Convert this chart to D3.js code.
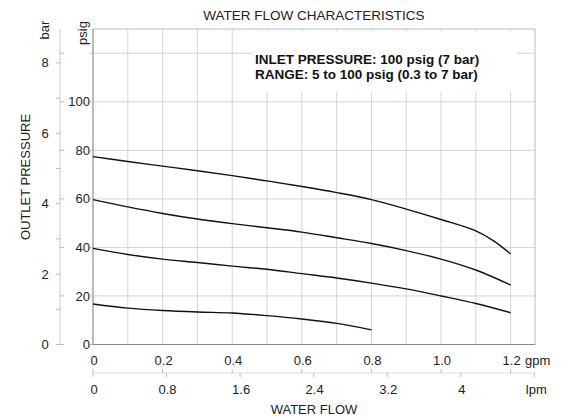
<!DOCTYPE html>
<html>
<head>
<meta charset="utf-8">
<script src="https://cdn.jsdelivr.net/npm/d3@7"></script>
<style>
  body { margin: 0; background: #fff; }
  text { font-family: "Liberation Sans", Arial, sans-serif; fill: #222; }
</style>
</head>
<body>
<svg id="chart" width="565" height="418"></svg>
<script>
// Water flow characteristics: outlet pressure vs water flow

// flow points (gpm) for each curve
const flowTop = [0, 0.1, 0.2, 0.3, 0.4, 0.5, 0.6, 0.7, 0.8, 0.9, 1.0, 1.1, 1.15, 1.2];
const flowMid = [0, 0.1, 0.2, 0.3, 0.4, 0.5, 0.6, 0.7, 0.8, 0.9, 1.0, 1.1, 1.2];
const flowLow = [0, 0.1, 0.2, 0.3, 0.4, 0.5, 0.6, 0.7, 0.8];

// outlet pressure (psig)
const outlet80 = [77.4, 75.4, 73.5, 71.6, 69.6, 67.4, 65.1, 62.6, 59.7, 55.8, 51.5, 46.8, 42.8, 37.3];
const outlet60 = [59.7, 56.7, 54.0, 51.7, 49.8, 48.1, 46.3, 44.0, 41.6, 38.7, 35.2, 30.7, 24.5];
const outlet40 = [39.6, 37.1, 35.2, 33.8, 32.3, 31.0, 29.2, 27.4, 25.3, 22.9, 20.0, 16.9, 13.1];
const outlet20 = [16.7, 15.0, 14.0, 13.4, 13.0, 11.9, 10.5, 8.7, 6.0];

// tick labels
const psiTicks = [0, 20, 40, 60, 80, 100];
const barTicks = [0, 2, 4, 6, 8];
const gpmTicks = [0, 0.2, 0.4, 0.6, 0.8, 1.0, 1.2];
const lpmTicks = [0, 0.8, 1.6, 2.4, 3.2, 4];
const noteLines = ["INLET PRESSURE: 100 psig (7 bar)", "RANGE: 5 to 100 psig (0.3 to 7 bar)"];

const PSI_PER_BAR = 14.5038;
const LPM_PER_GPM = 3.7854;

const svg = d3.select("#chart");
const plotLeft = 93, plotRight = 535, plotTop = 29, plotBottom = 344.5;

const x = d3.scaleLinear().domain([0, 1.27]).range([plotLeft, plotRight]);
const y = d3.scaleLinear().domain([0, 130]).range([plotBottom, plotTop]);
const yBar = d3.scaleLinear().domain([0, 130 / PSI_PER_BAR]).range([plotBottom, plotTop]);
const xLpm = d3.scaleLinear().domain([0, 1.27 * LPM_PER_GPM]).range([plotLeft, plotRight]);

// gridlines
svg.append("g")
  .selectAll("line")
  .data(d3.range(1, 13).map(i => i / 10))
  .join("line")
    .attr("x1", d => x(d)).attr("x2", d => x(d))
    .attr("y1", plotTop).attr("y2", plotBottom)
    .attr("stroke", "#d4d4d4");

svg.append("g")
  .selectAll("line")
  .data([20, 40, 60, 80, 100, 120])
  .join("line")
    .attr("x1", plotLeft).attr("x2", plotRight)
    .attr("y1", d => y(d)).attr("y2", d => y(d))
    .attr("stroke", "#d4d4d4");

// plot frame
svg.append("rect")
  .attr("x", plotLeft).attr("y", plotTop)
  .attr("width", plotRight - plotLeft).attr("height", plotBottom - plotTop)
  .attr("fill", "none").attr("stroke", "#bbb");
svg.append("line")
  .attr("x1", plotLeft).attr("x2", plotRight).attr("y1", plotBottom).attr("y2", plotBottom)
  .attr("stroke", "#888");
svg.append("line")
  .attr("x1", plotLeft).attr("x2", plotLeft).attr("y1", plotTop).attr("y2", plotBottom)
  .attr("stroke", "#999");

// note box covers the grid
svg.append("rect")
  .attr("x", 252).attr("y", 31.5)
  .attr("width", 265).attr("height", 60)
  .attr("fill", "#fff");

svg.append("g")
  .selectAll("text")
  .data(noteLines)
  .join("text")
    .attr("x", 255)
    .attr("y", (d, i) => 64 + i * 15)
    .style("font-size", "13.5px")
    .style("font-weight", "bold")
    .style("fill", "#111")
    .text(d => d);

// title
svg.append("text")
  .attr("x", (plotLeft + plotRight) / 2).attr("y", 20)
  .attr("text-anchor", "middle")
  .style("font-size", "13.5px")
  .text("WATER FLOW CHARACTERISTICS");

// psi axis
const psiAxis = svg.append("g");
psiAxis.selectAll("line")
  .data(psiTicks.concat([120]))
  .join("line")
    .attr("x1", plotLeft - 3).attr("x2", plotLeft)
    .attr("y1", d => y(d)).attr("y2", d => y(d))
    .attr("stroke", "#bbb");
psiAxis.selectAll("text")
  .data(psiTicks)
  .join("text")
    .attr("x", 90)
    .attr("y", d => y(d))
    .attr("dy", "0.35em")
    .attr("text-anchor", "end")
    .style("font-size", "13px")
    .text(d => d);

// bar axis (separate line with psi ticks right, bar ticks left)
const barX = 60;
const barAxis = svg.append("g");
barAxis.append("line")
  .attr("x1", barX).attr("x2", barX).attr("y1", plotTop).attr("y2", plotBottom)
  .attr("stroke", "#ccc");
barAxis.selectAll("line.bt")
  .data(d3.range(0, 9))
  .join("line")
    .attr("class", "bt")
    .attr("x1", barX - 4).attr("x2", barX)
    .attr("y1", d => yBar(d)).attr("y2", d => yBar(d))
    .attr("stroke", "#bbb");
barAxis.selectAll("line.pt")
  .data([0, 20, 40, 60, 80, 100, 120])
  .join("line")
    .attr("class", "pt")
    .attr("x1", barX).attr("x2", barX + 4)
    .attr("y1", d => y(d)).attr("y2", d => y(d))
    .attr("stroke", "#bbb");
barAxis.selectAll("text")
  .data(barTicks)
  .join("text")
    .attr("x", 45)
    .attr("y", d => yBar(d))
    .attr("dy", "0.35em")
    .attr("text-anchor", "middle")
    .style("font-size", "13px")
    .text(d => d);

// unit labels on the left
svg.append("text")
  .attr("transform", "translate(49,30) rotate(-90)")
  .attr("text-anchor", "middle")
  .style("font-size", "13px")
  .text("bar");
svg.append("text")
  .attr("transform", "translate(87,33) rotate(-90)")
  .attr("text-anchor", "middle")
  .style("font-size", "13px")
  .text("psig");
svg.append("text")
  .attr("transform", "translate(30,177) rotate(-90)")
  .attr("text-anchor", "middle")
  .style("font-size", "13px")
  .text("OUTLET PRESSURE");

// gpm labels
svg.append("g")
  .selectAll("text")
  .data(gpmTicks)
  .join("text")
    .attr("x", d => x(d) + 1)
    .attr("y", 360)
    .attr("dy", "0.35em")
    .attr("text-anchor", "middle")
    .style("font-size", "13px")
    .text(d => d === 0 ? "0" : d.toFixed(1));
svg.append("text")
  .attr("x", 525).attr("y", 360).attr("dy", "0.35em")
  .style("font-size", "13px")
  .text("gpm");

// lpm axis
const lpmY = 373;
svg.append("line")
  .attr("x1", plotLeft).attr("x2", plotRight).attr("y1", lpmY).attr("y2", lpmY)
  .attr("stroke", "#ddd");
svg.append("g")
  .selectAll("line")
  .data(gpmTicks)
  .join("line")
    .attr("x1", d => x(d)).attr("x2", d => x(d))
    .attr("y1", lpmY - 4).attr("y2", lpmY)
    .attr("stroke", "#bbb");
svg.append("g")
  .selectAll("line")
  .data(lpmTicks.concat([4.8]))
  .join("line")
    .attr("x1", d => xLpm(d)).attr("x2", d => xLpm(d))
    .attr("y1", lpmY).attr("y2", lpmY + 4)
    .attr("stroke", "#bbb");
svg.append("g")
  .selectAll("text")
  .data(lpmTicks)
  .join("text")
    .attr("x", d => xLpm(d) + 1)
    .attr("y", 389)
    .attr("dy", "0.35em")
    .attr("text-anchor", "middle")
    .style("font-size", "13px")
    .text(d => d);
svg.append("text")
  .attr("x", xLpm(4.8) + 2).attr("y", 389).attr("dy", "0.35em")
  .attr("text-anchor", "middle")
  .style("font-size", "13px")
  .text("lpm");

svg.append("text")
  .attr("x", (plotLeft + plotRight) / 2).attr("y", 409).attr("dy", "0.35em")
  .attr("text-anchor", "middle")
  .style("font-size", "13px")
  .text("WATER FLOW");

// curves
const line = d3.line()
  .x(d => x(d[0]))
  .y(d => y(d[1]))
  .curve(d3.curveCatmullRom);

const curves = [
  d3.zip(flowTop, outlet80),
  d3.zip(flowMid, outlet60),
  d3.zip(flowMid, outlet40),
  d3.zip(flowLow, outlet20)
];

svg.append("g")
  .selectAll("path")
  .data(curves)
  .join("path")
    .attr("d", line)
    .attr("fill", "none")
    .attr("stroke", "#111")
    .attr("stroke-width", 1.4);
</script>
</body>
</html>
